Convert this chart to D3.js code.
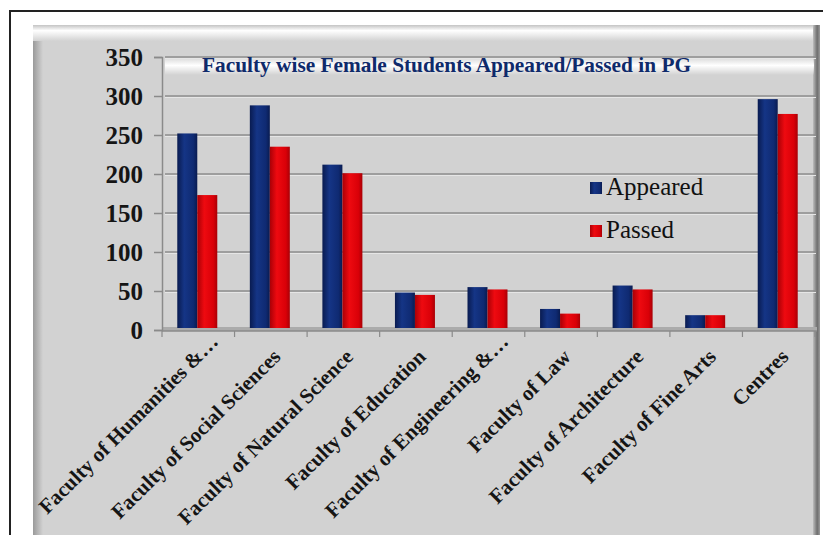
<!DOCTYPE html>
<html>
<head>
<meta charset="utf-8">
<script src="https://cdn.jsdelivr.net/npm/d3@7"></script>
<style>
  body { margin: 0; background: #fff; }
  svg { display: block; }
</style>
</head>
<body>
<div id="chart"></div>
<script>
// data
var categories = ["Faculty of Humanities &\u2026", "Faculty of Social Sciences", "Faculty of Natural Science",
  "Faculty of Education", "Faculty of Engineering &\u2026", "Faculty of Law",
  "Faculty of Architecture", "Faculty of Fine Arts", "Centres"];
var appeared = [252, 288, 212, 48, 55, 27, 57, 19, 296];
var passed = [173, 235, 201, 45, 52, 21, 52, 19, 277];
var seriesNames = ["Appeared", "Passed"];
var yTicks = [0, 50, 100, 150, 200, 250, 300, 350];

var W = 823, H = 535;
var plot = { left: 162, right: 815, top: 57, bottom: 330 };
var serif = "'Liberation Serif', 'Times New Roman', serif";

var myData = categories.map(function(c, i) {
  return { name: c, Appeared: appeared[i], Passed: passed[i] };
});

var svg = d3.select("#chart").append("svg")
    .attr("width", W)
    .attr("height", H);

var defs = svg.append("defs");

// bar shading, a bit like the 3d look in the original
function barGrad(id, dark, mid, light) {
  var g = defs.append("linearGradient").attr("id", id)
      .attr("x1", "0").attr("x2", "1").attr("y1", "0").attr("y2", "0");
  g.append("stop").attr("offset", "0%").attr("stop-color", dark);
  g.append("stop").attr("offset", "35%").attr("stop-color", light);
  g.append("stop").attr("offset", "80%").attr("stop-color", mid);
  g.append("stop").attr("offset", "100%").attr("stop-color", dark);
}
barGrad("gA", "#091b50", "#0f2a72", "#153586");
barGrad("gP", "#a90006", "#d90008", "#ee0a10");

var topBevel = defs.append("linearGradient").attr("id", "topBevel")
    .attr("x1", "0").attr("x2", "0").attr("y1", "0").attr("y2", "1");
topBevel.append("stop").attr("offset", "0%").attr("stop-color", "#c4c4c4");
topBevel.append("stop").attr("offset", "35%").attr("stop-color", "#ffffff");
topBevel.append("stop").attr("offset", "100%").attr("stop-color", "#d2d2d2");

var leftBevel = defs.append("linearGradient").attr("id", "leftBevel")
    .attr("x1", "0").attr("x2", "1").attr("y1", "0").attr("y2", "0");
leftBevel.append("stop").attr("offset", "0%").attr("stop-color", "#9a9a9a");
leftBevel.append("stop").attr("offset", "100%").attr("stop-color", "#d2d2d2");

var rightBevel = defs.append("linearGradient").attr("id", "rightBevel")
    .attr("x1", "0").attr("x2", "1").attr("y1", "0").attr("y2", "0");
rightBevel.append("stop").attr("offset", "0%").attr("stop-color", "#bdbdbd");
rightBevel.append("stop").attr("offset", "60%").attr("stop-color", "#6e6e6e");
rightBevel.append("stop").attr("offset", "100%").attr("stop-color", "#9a9a9a");

var band = defs.append("linearGradient").attr("id", "band")
    .attr("x1", "0").attr("x2", "0").attr("y1", "0").attr("y2", "1");
band.append("stop").attr("offset", "0%").attr("stop-color", "#ffffff").attr("stop-opacity", 0.3);
band.append("stop").attr("offset", "40%").attr("stop-color", "#ffffff").attr("stop-opacity", 1);
band.append("stop").attr("offset", "100%").attr("stop-color", "#ffffff").attr("stop-opacity", 0);

// outer frame
svg.append("rect")
    .attr("x", 10).attr("y", 11)
    .attr("width", W).attr("height", H)
    .attr("fill", "#fff").attr("stroke", "#222").attr("stroke-width", 2);

// gray panel
svg.append("rect")
    .attr("x", 33).attr("y", 25)
    .attr("width", 787).attr("height", H)
    .attr("fill", "#d2d2d2");
svg.append("rect")
    .attr("x", 33).attr("y", 25).attr("width", 10).attr("height", H)
    .attr("fill", "url(#leftBevel)");
svg.append("rect")
    .attr("x", 33).attr("y", 25).attr("width", 787).attr("height", 16)
    .attr("fill", "url(#topBevel)");
svg.append("rect")
    .attr("x", 813).attr("y", 25).attr("width", 7).attr("height", H)
    .attr("fill", "url(#rightBevel)");

// scales
var x = d3.scaleBand()
    .domain(categories)
    .range([plot.left, plot.right])
    .padding(0);
var bw = x.bandwidth();
var x1 = d3.scaleBand()
    .domain(seriesNames)
    .range([bw / 2 - 21, bw / 2 + 19])
    .padding(0);
var y = d3.scaleLinear()
    .domain([0, 350])
    .range([plot.bottom, plot.top]);

// white glare band at top of the wall
svg.append("rect")
    .attr("x", plot.left + 3).attr("y", y(350) + 2)
    .attr("width", plot.right - plot.left - 4).attr("height", 16)
    .attr("fill", "url(#band)");

// gridlines
var grid = svg.append("g");
grid.selectAll(".gl")
    .data(yTicks)
  .enter().append("line")
    .attr("x1", plot.left + 3).attr("x2", plot.right + 1)
    .attr("y1", function(d) { return y(d); })
    .attr("y2", function(d) { return y(d); })
    .attr("stroke", "#8c8c8c").attr("stroke-width", 1.5);
grid.selectAll(".gh")
    .data(yTicks.slice(1))
  .enter().append("line")
    .attr("x1", plot.left + 3).attr("x2", plot.right + 1)
    .attr("y1", function(d) { return y(d) + 1.5; })
    .attr("y2", function(d) { return y(d) + 1.5; })
    .attr("stroke", "#e6e6e6").attr("stroke-width", 1);

// floor
svg.append("rect")
    .attr("x", plot.left).attr("y", plot.bottom - 3)
    .attr("width", plot.right - plot.left + 2).attr("height", 4)
    .attr("fill", "#ababab");

// y axis
var yAxis = svg.append("g")
    .attr("transform", "translate(" + plot.left + ",0)")
    .call(d3.axisLeft(y).tickValues(yTicks).tickSize(8).tickPadding(11));
yAxis.select(".domain").attr("stroke", "#8a8a8a").attr("stroke-width", 1.5);
yAxis.selectAll(".tick line").attr("stroke", "#8a8a8a").attr("stroke-width", 1.5);
yAxis.selectAll("text")
    .attr("font-family", serif)
    .attr("font-weight", "bold")
    .attr("font-size", "25px")
    .attr("fill", "#151515")
    .attr("dy", "0.34em");

// x axis
var xAxis = svg.append("g")
    .attr("transform", "translate(0," + (plot.bottom + 1) + ")");
xAxis.append("line")
    .attr("x1", plot.left).attr("x2", plot.right + 2)
    .attr("y1", 0).attr("y2", 0)
    .attr("stroke", "#8a8a8a").attr("stroke-width", 1.5);
xAxis.selectAll(".xt")
    .data(categories.concat(["end"]))
  .enter().append("line")
    .attr("x1", function(d, i) { return plot.left + i * bw; })
    .attr("x2", function(d, i) { return plot.left + i * bw; })
    .attr("y1", 0).attr("y2", 6)
    .attr("stroke", "#8a8a8a").attr("stroke-width", 1.2);

// truncated labels (ending in the ellipsis) sit a little higher, as in the original
xAxis.selectAll(".xl")
    .data(categories)
  .enter().append("text")
    .attr("transform", function(d) {
      var cut = d.slice(-1) == "\u2026";
      var dx = cut ? 21 : 11, dy = cut ? 12 : 27;
      return "translate(" + (x(d) + bw / 2 + dx) + "," + dy + ") rotate(-45)";
    })
    .attr("text-anchor", "end")
    .attr("font-family", serif)
    .attr("font-weight", "bold")
    .attr("font-size", "21px")
    .attr("fill", "#151515")
    .text(function(d) { return d; });

// bars
var groups = svg.selectAll(".grp")
    .data(myData)
  .enter().append("g")
    .attr("transform", function(d) { return "translate(" + x(d.name) + ",0)"; });

groups.selectAll("rect")
    .data(function(d) { return seriesNames.map(function(s) { return { key: s, value: d[s] }; }); })
  .enter().append("rect")
    .attr("x", function(d) { return x1(d.key); })
    .attr("width", x1.bandwidth())
    .attr("y", function(d) { return y(d.value); })
    .attr("height", function(d) { return y(0) - y(d.value) - 2; })
    .attr("fill", function(d) { return d.key == "Appeared" ? "url(#gA)" : "url(#gP)"; });

// title
svg.append("text")
    .attr("x", 202).attr("y", 72)
    .attr("textLength", 489)
    .attr("lengthAdjust", "spacingAndGlyphs")
    .attr("font-family", serif)
    .attr("font-weight", "bold")
    .attr("font-size", "21px")
    .attr("fill", "#0f2a6b")
    .text("Faculty wise Female Students Appeared/Passed in PG");

// legend
var legend = svg.append("g").attr("transform", "translate(590,182)");
var li = legend.selectAll(".li")
    .data(seriesNames)
  .enter().append("g")
    .attr("transform", function(d, i) { return "translate(0," + (i * 43) + ")"; });
li.append("rect")
    .attr("width", 12).attr("height", 12)
    .attr("fill", function(d) { return d == "Appeared" ? "url(#gA)" : "url(#gP)"; });
li.append("text")
    .attr("x", 16).attr("y", 13)
    .attr("font-family", serif)
    .attr("font-size", "25px")
    .attr("fill", "#111")
    .text(function(d) { return d; });
</script>
</body>
</html>
